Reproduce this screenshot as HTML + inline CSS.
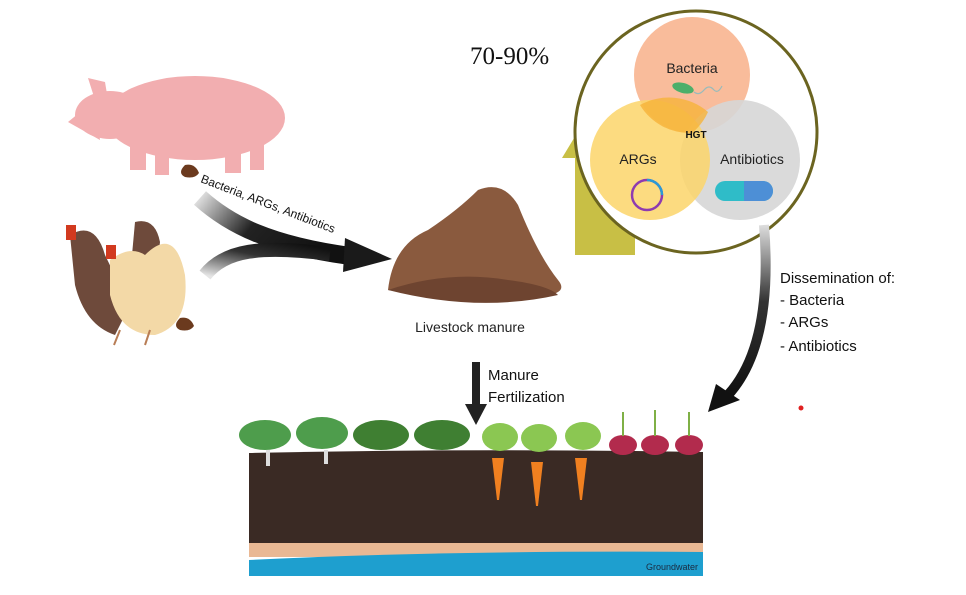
<!DOCTYPE html>
<html><head><meta charset="utf-8"><style>
html,body{margin:0;padding:0;background:#fff;}
svg{display:block;}
</style></head><body>
<svg width="966" height="595" viewBox="0 0 966 595" xmlns="http://www.w3.org/2000/svg" font-family="Liberation Sans, sans-serif">
<defs>
<linearGradient id="g1" x1="0" y1="0" x2="1" y2="0.3"><stop offset="0" stop-color="#ddd"/><stop offset="0.45" stop-color="#222"/><stop offset="1" stop-color="#111"/></linearGradient>
<linearGradient id="g2" x1="0" y1="1" x2="1" y2="0"><stop offset="0" stop-color="#e5e5e5"/><stop offset="0.6" stop-color="#333"/><stop offset="1" stop-color="#111"/></linearGradient>
<linearGradient id="g3" x1="0" y1="0" x2="0" y2="1"><stop offset="0" stop-color="#ddd"/><stop offset="0.45" stop-color="#333"/><stop offset="1" stop-color="#111"/></linearGradient>
</defs>
<text x="470" y="64" style="font-family:'Liberation Serif',serif" font-size="25" fill="#111">70-90%</text>

<path d="M575,255 L575,158 L562,158 L585,120 L610,158 L598,158 L598,255 Z" fill="#c8bf45"/>
<rect x="575" y="158" width="60" height="97" fill="#c8bf45"/>
<circle cx="696" cy="132" r="121" fill="#fff" stroke="#6b6420" stroke-width="3"/>
<circle cx="692" cy="75" r="58" fill="#f9b896" opacity="0.95"/>
<circle cx="740" cy="160" r="60" fill="#d6d6d6" opacity="0.9"/>
<circle cx="650" cy="160" r="60" fill="#fbd56a" opacity="0.85"/>
<path d="M640,105 A60,60 0 0 1 708,112 A58,58 0 0 1 692,133 A58,58 0 0 1 640,105Z" fill="#f6b33a" opacity="0.8"/>
<text x="692" y="73" font-size="14" text-anchor="middle" fill="#222">Bacteria</text>
<text x="696" y="138" font-size="10" font-weight="bold" text-anchor="middle" fill="#111">HGT</text>
<text x="638" y="164" font-size="14" text-anchor="middle" fill="#222">ARGs</text>
<text x="752" y="164" font-size="14" text-anchor="middle" fill="#222">Antibiotics</text>
<ellipse cx="683" cy="88" rx="11" ry="5" fill="#4caf6a" transform="rotate(15 683 88)"/>
<path d="M694,92 q5,4 10,-2 q5,-6 10,0 q4,4 8,-4" stroke="#9bb" fill="none" stroke-width="1.2"/>
<circle cx="647" cy="195" r="15" fill="none" stroke="#8e3bb0" stroke-width="2.5"/>
<path d="M647,180 a15,15 0 0 1 15,15" stroke="#2a9ad6" stroke-width="2.5" fill="none"/>
<rect x="715" y="181" width="58" height="20" rx="10" fill="#2fbcc8"/>
<path d="M744,181 h19 a10,10 0 0 1 0,20 h-19 z" fill="#4d8fd6"/>
<path d="M764,225 C770,300 760,360 728,395" stroke="url(#g3)" stroke-width="10" fill="none"/>
<polygon points="708,412 716,384 740,400" fill="#111"/>

<text font-size="15" fill="#111"><tspan x="780" y="283">Dissemination of:</tspan><tspan x="780" y="305">- Bacteria</tspan><tspan x="780" y="327">- ARGs</tspan><tspan x="780" y="351">- Antibiotics</tspan></text>
<circle cx="801" cy="408" r="2.5" fill="#e02020"/>

<g fill="#f2aeb0">
<ellipse cx="195" cy="118" rx="90" ry="42"/>
<ellipse cx="110" cy="115" rx="35" ry="24"/>
<path d="M68,122 L95,100 L100,140 Z"/>
<polygon points="88,78 105,82 108,100 95,100"/>
<rect x="130" y="130" width="16" height="40"/><rect x="155" y="140" width="14" height="35"/>
<rect x="225" y="135" width="16" height="38"/><rect x="250" y="130" width="14" height="40"/>
</g>
<path d="M185,165 q-8,8 0,12 q10,2 14,-4 q-4,-10 -14,-8z" fill="#6b3a1e"/>
<path d="M180,318 q-8,8 0,12 q10,2 14,-4 q-4,-10 -14,-8z" fill="#6b3a1e"/>
<path d="M70,235 q25,-15 35,20 q20,40 20,60 l-10,20 q-30,-10 -40,-50z" fill="#6e4a3b"/>
<path d="M135,222 q20,-5 25,20 l-5,40 l-25,-5z" fill="#6e4a3b"/>
<path d="M110,260 q20,-15 35,-5 q30,-30 40,20 q5,50 -30,60 q-35,0 -45,-40z" fill="#f3d9a7"/>
<rect x="66" y="225" width="10" height="15" fill="#d23a1f"/><rect x="106" y="245" width="10" height="14" fill="#d23a1f"/>
<path d="M120,330 l-6,15 M150,330 l-5,15" stroke="#b87d55" stroke-width="2"/>

<path d="M200,198 C230,225 270,245 350,256" stroke="url(#g1)" stroke-width="18" fill="none"/>
<path d="M205,275 C225,250 260,245 330,254" stroke="url(#g2)" stroke-width="14" fill="none"/>
<polygon points="345,238 392,259 343,272" fill="#1a1a1a"/>
<text font-size="12" fill="#111" transform="translate(200,182) rotate(21)">Bacteria, ARGs, Antibiotics</text>

<path d="M388,290 q5,-45 40,-60 q30,-20 50,-40 q25,-10 40,15 q20,50 40,75 q10,12 -10,15 q-80,8 -160,-5z" fill="#8a5a3e"/>
<path d="M388,290 q60,-20 120,-10 q40,5 50,15 q-80,18 -170,-5z" fill="#6e4430"/>
<text x="470" y="332" font-size="14" text-anchor="middle" fill="#222">Livestock manure</text>

<rect x="472" y="362" width="8" height="45" fill="#222"/>
<polygon points="465,404 487,404 476,425" fill="#222"/>
<text font-size="15" fill="#111"><tspan x="488" y="380">Manure</tspan><tspan x="488" y="402">Fertilization</tspan></text>

<path d="M249,453 Q470,448 703,452 L703,548 L249,548 Z" fill="#3a2a24"/>
<rect x="249" y="543" width="454" height="14" fill="#e9b894"/>
<path d="M249,560 Q450,550 703,552 L703,576 L249,576 Z" fill="#1e9fcf"/>
<text x="698" y="570" font-size="9" text-anchor="end" fill="#1a2a40">Groundwater</text>
<g fill="#4e9d4c">
<ellipse cx="265" cy="435" rx="26" ry="15"/><ellipse cx="322" cy="433" rx="26" ry="16"/>
<ellipse cx="381" cy="435" rx="28" ry="15" fill="#3f7f32"/><ellipse cx="442" cy="435" rx="28" ry="15" fill="#3f7f32"/>
<ellipse cx="500" cy="437" rx="18" ry="14" fill="#8bc752"/><ellipse cx="539" cy="438" rx="18" ry="14" fill="#8bc752"/><ellipse cx="583" cy="436" rx="18" ry="14" fill="#8bc752"/>
</g>
<g stroke="#ddd" stroke-width="4"><line x1="268" y1="450" x2="268" y2="466"/><line x1="326" y1="450" x2="326" y2="464"/></g>
<g fill="#f08020"><path d="M492,458 h12 l-5,42 h-2z"/><path d="M531,462 h12 l-5,44 h-2z"/><path d="M575,458 h12 l-5,42 h-2z"/></g>
<g fill="#b22b4d"><ellipse cx="623" cy="445" rx="14" ry="10"/><ellipse cx="655" cy="445" rx="14" ry="10"/><ellipse cx="689" cy="445" rx="14" ry="10"/></g>
<g stroke="#7fb046" stroke-width="2"><line x1="623" y1="412" x2="623" y2="436"/><line x1="655" y1="410" x2="655" y2="436"/><line x1="689" y1="412" x2="689" y2="436"/></g>
</svg>
</body></html>
